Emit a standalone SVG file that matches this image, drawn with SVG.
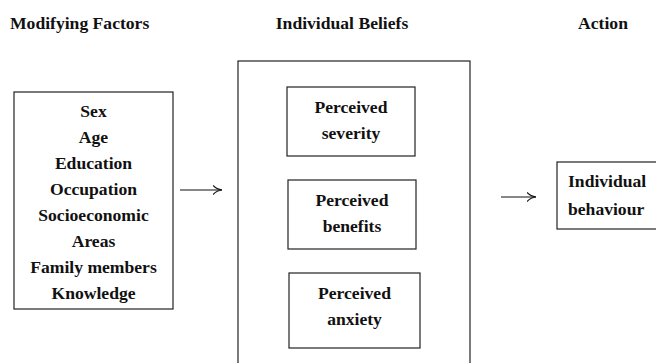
<svg xmlns="http://www.w3.org/2000/svg" width="656" height="363" viewBox="0 0 656 363">
<style>
text{font-family:"Liberation Serif","Times New Roman",serif;font-weight:bold;font-size:17.6px;fill:#111}
.c{text-anchor:middle}
.box{fill:#fff;stroke:#222;stroke-width:1.2}
.ln{stroke:#111;stroke-width:1.2;fill:none}
</style>
<defs>
<marker id="ah" viewBox="0 0 9 10" refX="9" refY="5" markerWidth="9" markerHeight="10" markerUnits="userSpaceOnUse" orient="auto">
<path d="M0,0.5 Q4,4.5 9,5 Q4,5.5 0,9.5" fill="none" stroke="#111" stroke-width="1.2"/>
</marker>
</defs>
<rect width="656" height="363" fill="#fff"/>
<g id="headers">
<text x="10" y="29">Modifying Factors</text>
<text x="342" y="29" class="c">Individual Beliefs</text>
<text x="603" y="29" class="c">Action</text>
</g>
<g id="modifying-factors">
<rect class="box" x="14" y="92" width="159" height="217"/>
<text class="c" x="93.5" y="117">Sex</text>
<text class="c" x="93.5" y="143">Age</text>
<text class="c" x="93.5" y="169">Education</text>
<text class="c" x="93.5" y="195">Occupation</text>
<text class="c" x="93.5" y="221">Socioeconomic</text>
<text class="c" x="93.5" y="247">Areas</text>
<text class="c" x="93.5" y="273">Family members</text>
<text class="c" x="93.5" y="299">Knowledge</text>
</g>
<g id="individual-beliefs">
<rect class="box" x="238" y="61" width="232" height="310"/>
</g>
<g id="perceived-severity">
<rect class="box" x="287" y="87" width="128" height="69"/>
<text class="c" x="351" y="113">Perceived</text>
<text class="c" x="351" y="139">severity</text>
</g>
<g id="perceived-benefits">
<rect class="box" x="288" y="180" width="128" height="69"/>
<text class="c" x="352" y="206">Perceived</text>
<text class="c" x="352" y="232">benefits</text>
</g>
<g id="perceived-anxiety">
<rect class="box" x="289" y="273" width="131" height="75"/>
<text class="c" x="354.5" y="299">Perceived</text>
<text class="c" x="354.5" y="325">anxiety</text>
</g>
<g id="individual-behaviour">
<rect class="box" x="557" y="162" width="110" height="67"/>
<text x="568" y="187">Individual</text>
<text x="568" y="215">behaviour</text>
</g>
<g id="connectors">
<line class="ln" x1="180" y1="190" x2="222" y2="190" marker-end="url(#ah)"/>
<line class="ln" x1="501" y1="197" x2="536" y2="197" marker-end="url(#ah)"/>
</g>
</svg>
